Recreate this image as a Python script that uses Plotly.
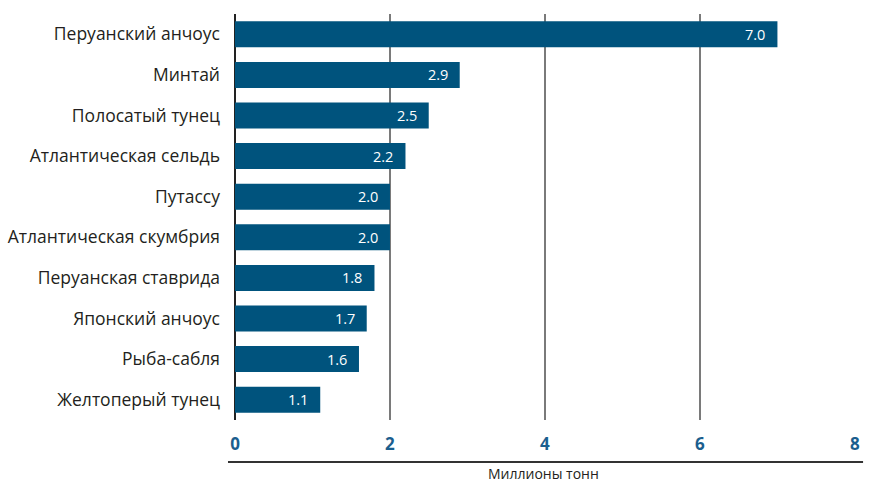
import plotly.graph_objects as go

species = [
    "Перуанский анчоус",
    "Минтай",
    "Полосатый тунец",
    "Атлантическая сельдь",
    "Путассу",
    "Атлантическая скумбрия",
    "Перуанская ставрида",
    "Японский анчоус",
    "Рыба-сабля",
    "Желтоперый тунец",
]
catch_mt = [7.0, 2.9, 2.5, 2.2, 2.0, 2.0, 1.8, 1.7, 1.6, 1.1]
x_ticks = [0, 2, 4, 6, 8]

BAR = "#00537D"
FONT = "Open Sans, Noto Sans, sans-serif"

fig = go.Figure(
    go.Bar(
        x=catch_mt,
        y=species,
        orientation="h",
        marker=dict(color=BAR, line=dict(width=0)),
        hoverinfo="skip",
    )
)

# value labels inside the bar ends
for name, v in zip(species, catch_mt):
    fig.add_annotation(
        x=v, y=name, xref="x", yref="y",
        text=f"{v:.1f}", showarrow=False,
        xanchor="right", xshift=-10,
        font=dict(family=FONT, size=14.5, color="white"),
    )

# rule above the axis title
fig.add_shape(
    type="line", xref="paper", yref="paper",
    x0=-0.0113, x1=1.013, y0=-0.1034, y1=-0.1034,
    line=dict(color="#333333", width=2),
)
fig.add_annotation(
    x=0.497, y=-0.132, xref="paper", yref="paper",
    text="Миллионы тонн", showarrow=False,
    xanchor="center", yanchor="middle", borderpad=0,
    font=dict(family=FONT, size=14, color="#231F20"),
)

fig.update_layout(
    width=880, height=483,
    margin=dict(l=235, r=25, t=14, b=63, autoexpand=False),
    paper_bgcolor="white", plot_bgcolor="white",
    bargap=0.36,
    showlegend=False,
    xaxis=dict(
        range=[0, 8.001],
        tickvals=x_ticks,
        ticktext=[str(t) for t in x_ticks],
        showgrid=True, gridcolor="#7A7A7A", gridwidth=1.5,
        zeroline=True, zerolinecolor="#222222", zerolinewidth=2,
        showline=False, ticks="",
        ticklabelstandoff=12,
        automargin=False,
        tickfont=dict(family=FONT, size=17, color="#1B5E8E", weight="bold"),
        fixedrange=True,
    ),
    yaxis=dict(
        categoryorder="array", categoryarray=species[::-1],
        showgrid=False, zeroline=False, showline=False, ticks="",
        ticklabelstandoff=14,
        automargin=False,
        tickfont=dict(family=FONT, size=17.5, color="#231F20"),
        fixedrange=True,
    ),
)

fig.write_html("out.html")
